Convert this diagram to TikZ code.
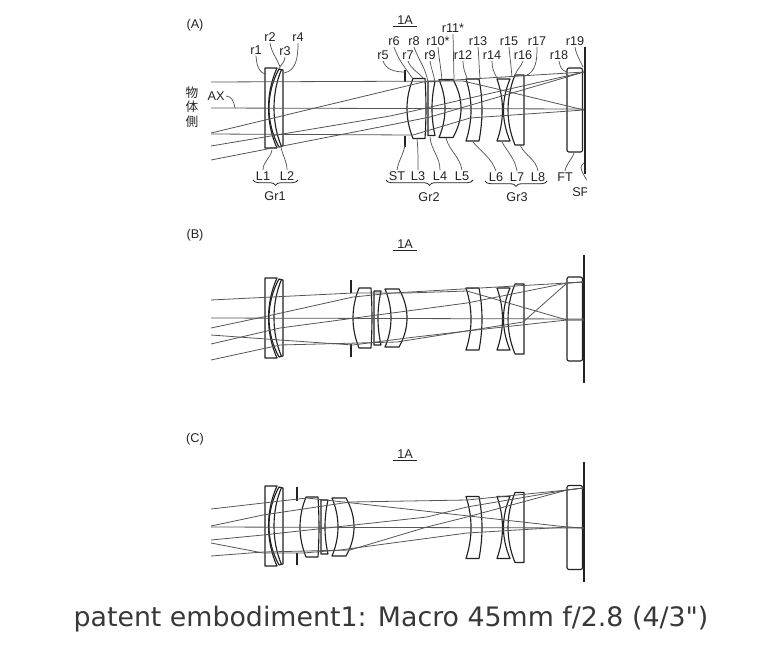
\documentclass[tikz,border=0pt]{standalone}
\usepackage{fontspec}
\setmainfont{Liberation Sans}
\newfontfamily\cjk{Noto Sans CJK JP}
\newfontfamily\captionfont{DejaVu Sans}
\usepackage{xcolor}
\usetikzlibrary{decorations.pathreplacing}
\definecolor{inkdark}{HTML}{222222}
\definecolor{raygray}{HTML}{555555}
\tikzstyle{lens} = [draw=inkdark, line width=0.85pt, line join=round]
\tikzstyle{ray} = [draw=raygray, line width=0.6pt]
\tikzstyle{leader} = [draw=raygray, line width=0.55pt]
\tikzstyle{plane} = [draw=inkdark, line width=1.2pt]
\tikzstyle{lbl} = [inner sep=0pt, text=inkdark, font=\fontsize{9.5}{10}\selectfont]
\tikzstyle{groupbrace} = [draw=inkdark, line width=0.6pt, decorate, decoration={brace, mirror, amplitude=4pt}]

% front group, x in picture pixels, y from the axis
\newcommand{\groupfront}{
    \draw [lens] (265,-40) -- (277,-40) .. controls (265.7,-15) and (265.7,15) .. (277,40) -- (265,40) -- cycle;
    \draw [lens] (279,-39) -- (283,-38) -- (283,38) -- (279,39) .. controls (265.7,15) and (265.7,-15) .. (279,-39) -- cycle;
    \draw [lens] (281.5,-38.5) .. controls (271.5,-15) and (271.5,15) .. (281.5,38.5);
}
% middle group, x from the left of L3
\newcommand{\groupmid}{
    \draw [lens] (6,-30) -- (18,-30) .. controls (19.3,-10) and (19.3,10) .. (18,30) -- (6,30) .. controls (-2,10) and (-2,-10) .. (6,-30) -- cycle;
    \draw [lens] (21,-27) -- (28,-27) .. controls (24,-9) and (24,9) .. (28,27) -- (21,27) -- cycle;
    \draw [lens] (32,-29) -- (46,-29) .. controls (56.7,-10) and (56.7,10) .. (46,29) -- (32,29) .. controls (40,10) and (40,-10) .. (32,-29) -- cycle;
}
% rear group and filter
\newcommand{\grouprear}{
    \draw [lens] (466,-31) -- (479,-31) .. controls (483,-10) and (483,10) .. (479,31) -- (466,31) .. controls (472.7,10) and (472.7,-10) .. (466,-31) -- cycle;
    \draw [lens] (497,-31) -- (510,-31) .. controls (501.3,-10) and (501.3,10) .. (510,31) -- (497,31) .. controls (504.3,10) and (504.3,-10) .. (497,-31) -- cycle;
    \draw [lens] (515,-35) -- (524,-35) -- (524,35) -- (515,35) .. controls (505.7,12) and (505.7,-12) .. (515,-35) -- cycle;
    \draw [lens, rounded corners=1.5pt] (567,-42) rectangle (582.5,42);
}

\begin{document}
\begin{tikzpicture}[x=0.75pt, y=-0.75pt]
    \useasboundingbox (0,0) rectangle (772,644);
    \begin{scope}
        \clip (0,0) rectangle (586.5,600);

        % panel A
        \node (panelA) [lbl] at (195,25) {(A)};
        \node (titleA) [lbl] at (405,20) {1A};
        \draw [lens, line width=0.6pt] ([xshift=-3pt, yshift=-1.5pt]titleA.south west) -- ([xshift=3pt, yshift=-1.5pt]titleA.south east);
        \begin{scope}[shift={(0,108)}] \groupfront \end{scope}
        \begin{scope}[shift={(407,108.5)}] \groupmid \end{scope}
        \begin{scope}[shift={(0,110)}] \grouprear \end{scope}
        \draw [plane] (585,47) -- (585,174);
        \draw [lens] (405,70) -- (405,82);
        \draw [lens] (405,136) -- (405,147);

        \draw [ray] (211,82) -- (463,81) -- (493,88) -- (584,110);
        \draw [ray] (211,134) -- (413,135) -- (470,118) -- (584,110);
        \draw [ray] (211,108) -- (584,109);
        \draw [ray] (211,133) -- (390,90) -- (423,82) -- (584,72);
        \draw [ray] (211,146) -- (390,116) -- (413,111) -- (584,72);
        \draw [ray] (211,160) -- (390,125) -- (430,117) -- (584,72);

        \node (obj1) [lbl, font=\cjk\fontsize{9.5}{10}\selectfont] at (192,93) {物};
        \node (obj2) [lbl, font=\cjk\fontsize{9.5}{10}\selectfont] at (192,107) {体};
        \node (obj3) [lbl, font=\cjk\fontsize{9.5}{10}\selectfont] at (192,122) {側};

        \node (AX) [lbl] at (216,96) {AX};
        \node (r1) [lbl] at (256,50) {r1};
        \node (r2) [lbl] at (270,37) {r2};
        \node (r3) [lbl] at (285,51) {r3};
        \node (r4) [lbl] at (298,37) {r4};
        \node (r5) [lbl] at (383,55) {r5};
        \node (r6) [lbl] at (394,41) {r6};
        \node (r7) [lbl] at (408,55) {r7};
        \node (r8) [lbl] at (414,41) {r8};
        \node (r9) [lbl] at (430,55) {r9};
        \node (r10) [lbl] at (438,41) {r10*};
        \node (r11) [lbl] at (453,28) {r11*};
        \node (r12) [lbl] at (463,55) {r12};
        \node (r13) [lbl] at (478,41) {r13};
        \node (r14) [lbl] at (492,55) {r14};
        \node (r15) [lbl] at (509,41) {r15};
        \node (r16) [lbl] at (523,55) {r16};
        \node (r17) [lbl] at (537,41) {r17};
        \node (r18) [lbl] at (559,55) {r18};
        \node (r19) [lbl] at (575,41) {r19};
        \node (L1) [lbl] at (263,176) {L1};
        \node (L2) [lbl] at (287,176) {L2};
        \node (ST) [lbl] at (397,176) {ST};
        \node (L3) [lbl] at (418,176) {L3};
        \node (L4) [lbl] at (440,176) {L4};
        \node (L5) [lbl] at (462,176) {L5};
        \node (L6) [lbl] at (496,177) {L6};
        \node (L7) [lbl] at (517,177) {L7};
        \node (L8) [lbl] at (538,177) {L8};
        \node (FT) [lbl] at (565,177) {FT};
        \node (SP) [lbl, anchor=west] at (572,192) {SP};
        \node (Gr1) [lbl] at (275,196) {Gr1};
        \node (Gr2) [lbl] at (429,197) {Gr2};
        \node (Gr3) [lbl] at (517,197) {Gr3};

        \coordinate (AXend) at (235,108);
        \coordinate (r1end) at (266,74);
        \coordinate (r2end) at (280,67);
        \coordinate (r3end) at (279,69);
        \coordinate (r4end) at (284,73);
        \coordinate (r5end) at (405,72);
        \coordinate (r6end) at (413,79);
        \coordinate (r7end) at (423,78);
        \coordinate (r8end) at (428,82);
        \coordinate (r9end) at (435,82);
        \coordinate (r10end) at (442,80);
        \coordinate (r11end) at (454,79);
        \coordinate (r12end) at (467,78);
        \coordinate (r13end) at (480,78);
        \coordinate (r14end) at (497,78);
        \coordinate (r15end) at (512,77);
        \coordinate (r16end) at (515,75);
        \coordinate (r17end) at (525,76);
        \coordinate (r18end) at (567,72);
        \coordinate (r19end) at (583,67);
        \coordinate (L1end) at (272,150);
        \coordinate (L2end) at (281,147);
        \coordinate (STend) at (405,145);
        \coordinate (L3end) at (417,138);
        \coordinate (L4end) at (430,137);
        \coordinate (L5end) at (446,138);
        \coordinate (L6end) at (473,142);
        \coordinate (L7end) at (502,142);
        \coordinate (L8end) at (520,145);
        \coordinate (FTend) at (574,153);
        \coordinate (SPend) at (584,163);

        \draw [leader] ([xshift=1pt]AX.east) to[out=0, in=100] (AXend);
        \draw [leader] ([yshift=-1pt]r1.south) to[out=-85, in=170] (r1end);
        \draw [leader] ([yshift=-1pt]r2.south) to[out=-80, in=110] (r2end);
        \draw [leader] ([yshift=-1pt]r3.south) to[out=-90, in=70] (r3end);
        \draw [leader] ([yshift=-1pt]r4.south) to[out=-90, in=10] (r4end);
        \draw [leader] ([yshift=-1pt]r5.south) to[out=-70, in=180] (r5end);
        \draw [leader] ([yshift=-1pt]r6.south) to[out=-70, in=125] (r6end);
        \draw [leader] ([yshift=-1pt]r7.south) to[out=-70, in=130] (r7end);
        \draw [leader] ([yshift=-1pt]r8.south) to[out=-70, in=100] (r8end);
        \draw [leader] ([yshift=-1pt]r9.south) to[out=-80, in=100] (r9end);
        \draw [leader] ([yshift=-1pt]r10.south) to[out=-85, in=95] (r10end);
        \draw [leader] ([yshift=-1pt]r11.south) -- (r11end);
        \draw [leader] ([yshift=-1pt]r12.south) to[out=-90, in=110] (r12end);
        \draw [leader] ([yshift=-1pt]r13.south) to[out=-85, in=95] (r13end);
        \draw [leader] ([yshift=-1pt]r14.south) to[out=-90, in=120] (r14end);
        \draw [leader] ([yshift=-1pt]r15.south) to[out=-85, in=95] (r15end);
        \draw [leader] ([yshift=-1pt]r16.south) to[out=-110, in=70] (r16end);
        \draw [leader] ([yshift=-1pt]r17.south) to[out=-90, in=20] (r17end);
        \draw [leader] ([yshift=-1pt]r18.south) to[out=-80, in=170] (r18end);
        \draw [leader] ([yshift=-1pt]r19.south) to[out=-80, in=115] (r19end);
        \draw [leader] ([yshift=1pt]L1.north) to[out=90, in=-100] (L1end);
        \draw [leader] ([yshift=1pt]L2.north) to[out=90, in=-80] (L2end);
        \draw [leader] ([yshift=1pt]ST.north) to[out=80, in=-100] (STend);
        \draw [leader] ([yshift=1pt]L3.north) to[out=90, in=-85] (L3end);
        \draw [leader] ([yshift=1pt]L4.north) to[out=90, in=-85] (L4end);
        \draw [leader] ([yshift=1pt]L5.north) to[out=100, in=-75] (L5end);
        \draw [leader] ([yshift=1pt]L6.north) to[out=110, in=-50] (L6end);
        \draw [leader] ([yshift=1pt]L7.north) to[out=100, in=-60] (L7end);
        \draw [leader] ([yshift=1pt]L8.north) to[out=100, in=-65] (L8end);
        \draw [leader] ([yshift=1pt]FT.north) to[out=80, in=-110] (FTend);
        \draw [leader] (SP.north east) to[out=100, in=-150] (SPend);

        \draw [groupbrace] (253,180) -- (298,180);
        \draw [groupbrace] (386,180) -- (473,180);
        \draw [groupbrace] (485,181) -- (547,181);

        % panel B
        \node (panelB) [lbl] at (195,235) {(B)};
        \node (titleB) [lbl] at (405,244) {1A};
        \draw [lens, line width=0.6pt] ([xshift=-3pt, yshift=-1.5pt]titleB.south west) -- ([xshift=3pt, yshift=-1.5pt]titleB.south east);
        \begin{scope}[shift={(0,318)}] \groupfront \end{scope}
        \begin{scope}[shift={(353,318)}] \groupmid \end{scope}
        \begin{scope}[shift={(0,319)}] \grouprear \end{scope}
        \draw [plane] (584,255) -- (584,383);
        \draw [lens] (351,280) -- (351,293);
        \draw [lens] (351,344) -- (351,357);

        \draw [ray] (211,300) -- (353,293) -- (407,293) -- (467,291) -- (567,320) -- (584,320);
        \draw [ray] (211,335) -- (280,340) -- (353,345) -- (407,338) -- (467,331) -- (567,320) -- (584,320);
        \draw [ray] (211,318) -- (584,319);
        \draw [ray] (211,328) -- (263,317) -- (353,297) -- (393,293) -- (567,283) -- (583,282);
        \draw [ray] (211,344) -- (280,328) -- (467,303) -- (567,283) -- (583,282);
        \draw [ray] (211,360) -- (280,345) -- (397,342) -- (523,322) -- (567,283) -- (583,282);

        % panel C
        \node (panelC) [lbl] at (195,439) {(C)};
        \node (titleC) [lbl] at (405,454) {1A};
        \draw [lens, line width=0.6pt] ([xshift=-3pt, yshift=-1.5pt]titleC.south west) -- ([xshift=3pt, yshift=-1.5pt]titleC.south east);
        \begin{scope}[shift={(0,526)}] \groupfront \end{scope}
        \begin{scope}[shift={(300,527)}] \groupmid \end{scope}
        \begin{scope}[shift={(0,527.5)}] \grouprear \end{scope}
        \draw [plane] (584,462) -- (584,582);
        \draw [lens] (297,487) -- (297,501);
        \draw [lens] (297,553) -- (297,565);

        \draw [ray] (211,509) -- (307,498) -- (350,502.7) -- (567,527) -- (584,528);
        \draw [ray] (211,543) -- (263,553) -- (303,553) -- (340,550) -- (467,533) -- (567,527) -- (584,528);
        \draw [ray] (211,527) -- (584,528);
        \draw [ray] (211,526) -- (263,515) -- (350,502) -- (467,500) -- (567,490) -- (583,488);
        \draw [ray] (211,540) -- (263,535) -- (427,517) -- (467,507) -- (567,490) -- (583,488);
        \draw [ray] (211,556) -- (263,552) -- (350,550) -- (427,527) -- (467,517) -- (567,490) -- (583,488);
    \end{scope}

    \node (caption) [inner sep=0pt, text=inkdark!90, font=\captionfont\fontsize{20.1}{22}\selectfont] at (391,619) {patent embodiment1: Macro 45mm f/2.8 (4/3")};
\end{tikzpicture}
\end{document}
